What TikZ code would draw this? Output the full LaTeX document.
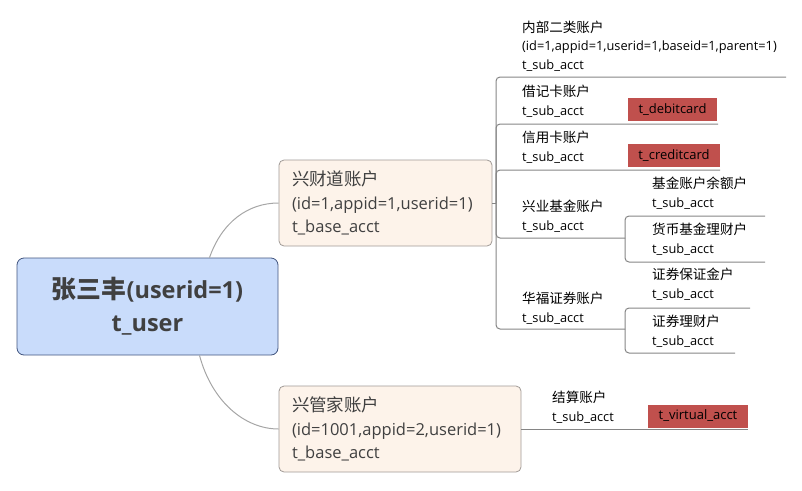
\documentclass[tikz,border=0pt]{standalone}
\usepackage{fontspec}
\setmainfont{Open Sans}
\newfontfamily\cjk[Scale=1.06]{Noto Sans CJK SC}
\definecolor{rootfill}{HTML}{C9DCFB}
\definecolor{rootline}{HTML}{42557F}
\definecolor{boxfill}{HTML}{FDF3EA}
\definecolor{boxline}{HTML}{A09A96}
\definecolor{tagred}{HTML}{C0504D}
\definecolor{textgray}{HTML}{404040}
\definecolor{linegray}{HTML}{858585}
\begin{document}
\begin{tikzpicture}[x=1pt,y=-1pt,  %account tree of one user
  root/.style={draw=rootline,fill=rootfill,line width=0.8pt,rounded corners=7pt,minimum width=261pt,minimum height=97pt,align=center,text=textgray,font=\fontsize{23.5}{33}\selectfont\bfseries},
  acct/.style={draw=boxline,fill=boxfill,line width=0.8pt,rounded corners=5pt,minimum height=86pt,inner xsep=13pt,align=left,text=textgray,font=\fontsize{16.5}{23.5}\selectfont},
  small/.style={anchor=west,align=left,inner sep=0pt,font=\fontsize{12.8}{18.5}\selectfont},
  tag/.style={fill=tagred,minimum height=23pt,inner sep=0pt,font=\fontsize{13}{15}\selectfont},
  branch/.style={draw=linegray,line width=1pt,rounded corners=4pt}]
\useasboundingbox (0,0) rectangle (802,490);
% root and the two base accounts
\node[root] (user) at (147.5,306.5) {{\cjk 张三丰}(userid=1)\\t\_user};
\node[acct,text width=187pt] (xcd) at (385.5,203) {{\cjk 兴财道账户}\\(id=1,appid=1,userid=1)\\t\_base\_acct};
\node[acct,text width=216pt] (xgj) at (400,429) {{\cjk 兴管家账户}\\(id=1001,appid=2,userid=1)\\t\_base\_acct};
\path (user.north) ++(62,0) coordinate (c1);
\path (user.south) ++(52,0) coordinate (c2);
\draw[branch,draw=gray!70] (c1) .. controls (222,222) and (248,203) .. (xcd.west);
\draw[branch,draw=gray!70] (c2) .. controls (212,402) and (245,429) .. (xgj.west);
% sub accounts
\node[small] (nb) at (522,46) {{\cjk 内部二类账户}\\(id=1,appid=1,userid=1,baseid=1,parent=1)\\t\_sub\_acct};
\node[small] (jjk) at (522,101) {{\cjk 借记卡账户}\\t\_sub\_acct};
\node[small] (xyk) at (522,147) {{\cjk 信用卡账户}\\t\_sub\_acct};
\node[small] (xyjj) at (522,216) {{\cjk 兴业基金账户}\\t\_sub\_acct};
\node[small] (hfzq) at (522,308) {{\cjk 华福证券账户}\\t\_sub\_acct};
\node[small] (jjye) at (652,193) {{\cjk 基金账户余额户}\\t\_sub\_acct};
\node[small] (hblc) at (652,239) {{\cjk 货币基金理财户}\\t\_sub\_acct};
\node[small] (zqbz) at (652,284) {{\cjk 证券保证金户}\\t\_sub\_acct};
\node[small] (zqlc) at (652,331) {{\cjk 证券理财户}\\t\_sub\_acct};
\node[small] (js) at (552,407) {{\cjk 结算账户}\\t\_sub\_acct};
\node[tag,minimum width=89pt] (dc) at (672.5,109.5) {t\_debitcard};
\node[tag,minimum width=92pt] (cc) at (674,155.5) {t\_creditcard};
\node[tag,minimum width=100pt] (va) at (698,416) {t\_virtual\_acct};
% branches
\coordinate (hub) at (496,203);
\draw[branch] (xcd.east) -- (hub);
\foreach \n/\y/\e in {enb/77/786,ejjk/124/718,exyk/170/720,hub2/238/625,hub3/329/625}{
  \coordinate (\n) at (\e,\y);
  \draw[branch] (hub) |- (\n);
}
\foreach \n/\y/\e in {ejjye/216/765,ehblc/262/765}{
  \coordinate (\n) at (\e,\y);
  \draw[branch] (hub2) |- (\n);
}
\foreach \n/\y/\e in {ezqbz/308/750,ezqlc/353/735}{
  \coordinate (\n) at (\e,\y);
  \draw[branch] (hub3) |- (\n);
}
\coordinate (ejs) at (748,429);
\draw[branch] (xgj.east) -- (ejs);
\end{tikzpicture}
\end{document}
